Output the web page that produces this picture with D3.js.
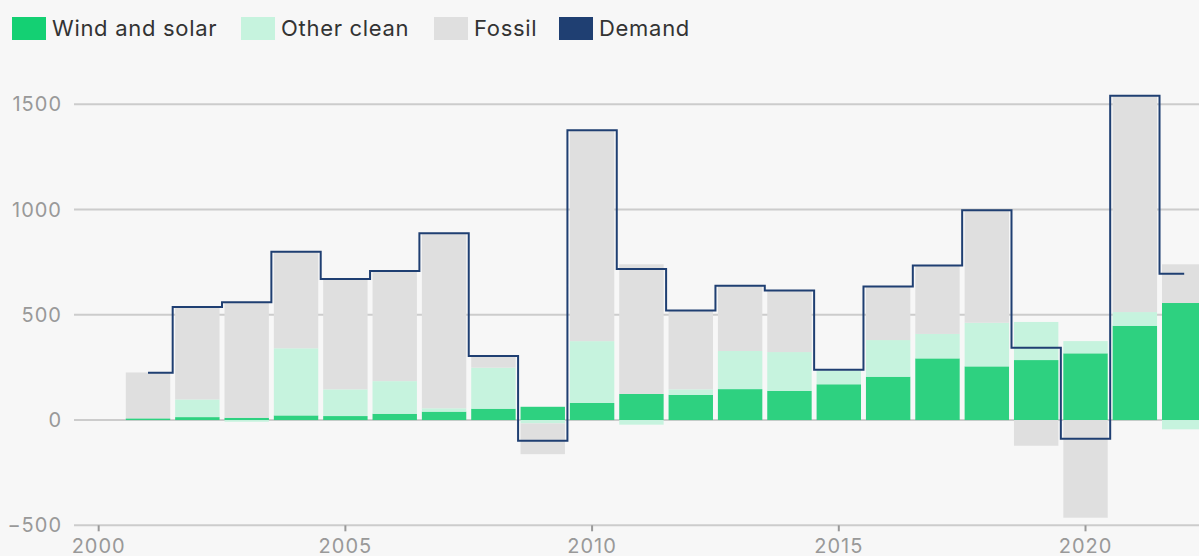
<!DOCTYPE html>
<html>
<head>
<meta charset="utf-8">
<script src="https://cdn.jsdelivr.net/npm/d3@7"></script>
<style>
  body { margin: 0; background: #f7f7f7; }
  svg { display: block; font-family: Inter, "Open Sans", sans-serif; }
  .legendText { font-size: 22px; fill: #333; letter-spacing: 0.7px; }
  .tickText { font-size: 20px; fill: #999; letter-spacing: 1px; }
</style>
</head>
<body>
<div id="chart"></div>
<script>
// data, change in generation by year
const years = [2001, 2002, 2003, 2004, 2005, 2006, 2007, 2008, 2009, 2010, 2011,
               2012, 2013, 2014, 2015, 2016, 2017, 2018, 2019, 2020, 2021, 2022];
const windSolar = [8, 14, 11, 22, 19, 30, 40, 54, 63, 81, 124,
                   120, 147, 139, 170, 206, 293, 255, 285, 317, 448, 556];
const otherClean = [0, 84, -8, 319, 127, 155, 16, 195, -16, 294, -22,
                    26, 181, 184, 66, 174, 116, 207, 181, 58, 65, -44];
const fossil = [218, 439, 545, 458, 522, 521, 830, 52, -146, 1002, 616,
                374, 310, 293, 3, 254, 325, 535, -122, -464, 1028, 184];
const demand = [225, 537, 560, 800, 670, 708, 887, 304, -98, 1377, 718,
                520, 638, 616, 239, 634, 734, 997, 344, -89, 1541, 695];

const yTicks = [-500, 0, 500, 1000, 1500];
const xTicks = [2000, 2005, 2010, 2015, 2020];

const seriesNames = ["Wind and solar", "Other clean", "Fossil", "Demand"];
const colors = {
    "Wind and solar": "#2ed180",
    "Other clean": "#c6f3de",
    "Fossil": "#dfdfdf",
    "Demand": "#1f3f72"
};

const width = 1199, height = 556;
const svg = d3.select("#chart").append("svg")
    .attr("width", width)
    .attr("height", height);

let x = d3.scaleLinear()
    .domain([1999.5, 2022.3])
    .range([74, width]);
let y = d3.scaleLinear()
    .domain([-500, 1500])
    .range([525.3, 104.3]);

// gridlines
svg.append("g").selectAll("line").data(yTicks).enter().append("line")
    .attr("x1", 74)
    .attr("x2", width)
    .attr("y1", d => y(d))
    .attr("y2", d => y(d))
    .attr("stroke", "#cccccc")
    .attr("stroke-width", 2);

// y labels
svg.append("g").selectAll("text").data(yTicks).enter().append("text")
    .attr("x", 62)
    .attr("y", d => y(d))
    .attr("dy", "0.35em")
    .attr("text-anchor", "end")
    .classed("tickText", true)
    .text(d => d < 0 ? "\u2212" + Math.abs(d) : d);

// x ticks + labels
let xg = svg.append("g");
xg.selectAll("line").data(xTicks).enter().append("line")
    .attr("x1", d => x(d))
    .attr("x2", d => x(d))
    .attr("y1", y(-500))
    .attr("y2", y(-500) + 6)
    .attr("stroke", "#999")
    .attr("stroke-width", 2);
xg.selectAll("text").data(xTicks).enter().append("text")
    .attr("x", d => x(d))
    .attr("y", 553)
    .attr("text-anchor", "middle")
    .classed("tickText", true)
    .text(d => d);

// stacked bars
let rows = years.map((yr, i) => ({
    year: yr,
    "Wind and solar": windSolar[i],
    "Other clean": otherClean[i],
    "Fossil": fossil[i]
}));
let stack = d3.stack()
    .keys(["Wind and solar", "Other clean", "Fossil"])
    .offset(d3.stackOffsetDiverging);
let layers = stack(rows);

let barW = (x(1) - x(0)) * 0.9;
let barGroups = svg.append("g").selectAll("g").data(layers).enter().append("g")
    .attr("fill", d => colors[d.key]);
barGroups.selectAll("rect").data(d => d).enter().append("rect")
    .attr("x", d => x(d.data.year) - barW / 2)
    .attr("width", barW)
    .attr("y", d => y(Math.max(d[0], d[1])))
    .attr("height", d => Math.abs(y(d[0]) - y(d[1])));

// demand step line
let line = d3.line()
    .x((d, i) => x(years[i]))
    .y(d => y(d))
    .curve(d3.curveStep);
svg.append("path")
    .datum(demand)
    .attr("d", line)
    .attr("fill", "none")
    .attr("stroke", colors["Demand"])
    .attr("stroke-width", 2);

// legend
let legendX = [12, 241, 434, 559];
let legend = svg.append("g").selectAll("g").data(seriesNames).enter().append("g")
    .attr("transform", (d, i) => "translate(" + legendX[i] + ",0)");
legend.append("rect")
    .attr("x", 0)
    .attr("y", 17)
    .attr("width", 34)
    .attr("height", 23)
    .attr("fill", d => d === "Wind and solar" ? "#14d073" : colors[d]);
legend.append("text")
    .attr("x", 40)
    .attr("y", 28)
    .attr("dy", "0.35em")
    .classed("legendText", true)
    .text(d => d);
</script>
</body>
</html>
